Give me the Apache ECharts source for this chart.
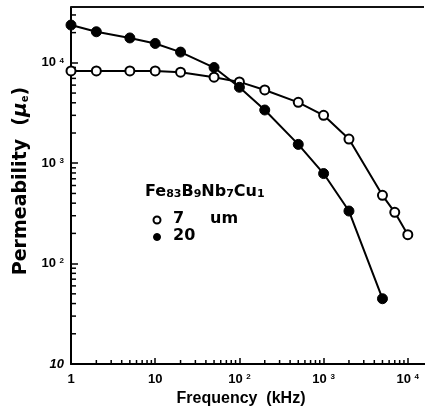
<!DOCTYPE html>
<html>
<head>
<meta charset="utf-8">
<script src="https://cdn.jsdelivr.net/npm/echarts@6/dist/echarts.min.js"></script>
<style>
html,body{margin:0;padding:0;background:#fff;}
#chart{width:425px;height:412px;}
</style>
</head>
<body>
<div id="chart"></div>
<script>
// Data
var freq7  = [1, 2, 5, 10, 20, 50, 100, 200, 500, 1000, 2000, 5000, 7000, 10000];
var perm7  = [8300, 8300, 8300, 8300, 8070, 7200, 6460, 5370, 4040, 3000, 1740, 479, 324, 194];
var freq20 = [1, 2, 5, 10, 20, 50, 100, 200, 500, 1000, 2000, 5000];
var perm20 = [23800, 20400, 17700, 15600, 12800, 8980, 5710, 3390, 1540, 789, 334, 44.7];

// Minor tick positions (axis decoration)
var xMinorTicks = [2,3,4,5,6,7,8,9, 20,30,40,50,60,70,80,90, 200,300,400,500,600,700,800,900, 2000,3000,4000,5000,6000,7000,8000,9000];
var yMinorTicks = [20,30,40,50,60,70,80,90, 200,300,400,500,600,700,800,900, 2000,3000,4000,5000,6000,7000,8000,9000, 20000,30000];

var X_MIN = 1, X_MAX = 16000, Y_MIN = 10, Y_MAX = 36000;
var FONT = 'Liberation Sans';
var WIDE = 'DejaVu Sans';

function isPow10(v){ var l = Math.log10(v); return Math.abs(l - Math.round(l)) < 1e-6; }
function powLabel(v, italicTen){
  if (!isPow10(v)) return '';
  var e = Math.round(Math.log10(v));
  if (e === 0) return '1';
  if (e === 1) return italicTen ? '{it|10}' : '10';
  return '10 {sup|' + e + '}';
}

var chart = echarts.init(document.getElementById('chart'));

var richSup = {
  sup: {fontSize: 8, fontWeight: 'bold', fontFamily: FONT, verticalAlign: 'top', lineHeight: 9, color: '#000'},
  it: {fontSize: 13, fontWeight: 'bold', fontStyle: 'italic', fontFamily: FONT, color: '#000'}
};

chart.setOption({
  animation: false,
  backgroundColor: '#fff',
  grid: {left: 71, top: 7, right: 0, bottom: 48},
  xAxis: {
    type: 'log', logBase: 10, min: X_MIN, max: X_MAX,
    axisLine: {lineStyle: {color: '#000', width: 2}},
    axisTick: {inside: true, length: 6, lineStyle: {color: '#000', width: 1.5}},
    splitLine: {show: false},
    axisLabel: {
      margin: 9, color: '#000', fontSize: 13, fontWeight: 'bold', fontFamily: FONT,
      formatter: function(v){ return powLabel(v, false); }, rich: richSup,
      showMaxLabel: false
    },
    name: 'Frequency  (kHz)', nameLocation: 'middle', nameGap: 26,
    nameTextStyle: {fontSize: 16, fontWeight: 'bold', fontFamily: FONT, color: '#000', padding: [0, 14, 0, 0]}
  },
  yAxis: {
    type: 'log', logBase: 10, min: Y_MIN, max: Y_MAX,
    axisLine: {lineStyle: {color: '#000', width: 2}},
    axisTick: {inside: true, length: 7, lineStyle: {color: '#000', width: 1.5}},
    splitLine: {show: false},
    axisLabel: {
      margin: 7, color: '#000', fontSize: 13, fontWeight: 'bold', fontFamily: FONT,
      formatter: function(v){ return powLabel(v, true); }, rich: richSup,
      showMaxLabel: false
    },
    name: 'Permeability  ({mu|μ}{sub|e})', nameLocation: 'middle', nameGap: 34, nameRotate: 90,
    nameTextStyle: {
      fontSize: 19, fontWeight: 'bold', fontFamily: WIDE, color: '#000', padding: [0, 0, 0, 9],
      rich: {
        mu: {fontSize: 20, fontWeight: 'bold', fontStyle: 'italic', fontFamily: WIDE, color: '#000'},
        sub: {fontSize: 10, fontWeight: 'bold', fontFamily: WIDE, color: '#000', verticalAlign: 'bottom', lineHeight: 9}
      }
    }
  },
  series: [{
    type: 'line', name: '7 um',
    data: freq7.map(function(f, i){ return [f, perm7[i]]; }),
    symbol: 'circle', symbolSize: 9,
    lineStyle: {color: '#000', width: 2},
    itemStyle: {color: '#fff', borderColor: '#000', borderWidth: 2},
    z: 3
  }, {
    type: 'line', name: '20 um',
    data: freq20.map(function(f, i){ return [f, perm20[i]]; }),
    symbol: 'circle', symbolSize: 10,
    lineStyle: {color: '#000', width: 2},
    itemStyle: {color: '#000', borderColor: '#000', borderWidth: 1},
    z: 4
  }, {
    type: 'custom', silent: true,
    data: xMinorTicks.map(function(v){ return [v, Y_MIN]; }),
    renderItem: function(params, api){
      var p = api.coord([api.value(0), api.value(1)]);
      return {type: 'line', shape: {x1: p[0], y1: p[1], x2: p[0], y2: p[1] - 4}, style: {stroke: '#000', lineWidth: 1.5}};
    }
  }, {
    type: 'custom', silent: true,
    data: yMinorTicks.map(function(v){ return [X_MIN, v]; }),
    renderItem: function(params, api){
      var p = api.coord([api.value(0), api.value(1)]);
      return {type: 'line', shape: {x1: p[0], y1: p[1], x2: p[0] + 5, y2: p[1]}, style: {stroke: '#000', lineWidth: 1.5}};
    }
  }, {
    // top frame line of the plot
    type: 'custom', silent: true, clip: false,
    data: [[X_MIN, Y_MAX]],
    renderItem: function(params, api){
      var a = api.coord([X_MIN, Y_MAX]);
      var b = api.coord([X_MAX, Y_MAX]);
      return {type: 'line', shape: {x1: a[0], y1: a[1], x2: b[0] - 1, y2: b[1]}, style: {stroke: '#111', lineWidth: 2}};
    }
  }],
  graphic: [{
    type: 'text', left: 145, top: 184,
    style: {
      text: 'Fe{sub|83}B{sub|9}Nb{sub|7}Cu{sub|1}',
      font: 'bold 16px "DejaVu Sans"', fill: '#000',
      rich: {sub: {fontSize: 11, fontWeight: 'bold', fontFamily: WIDE, verticalAlign: 'bottom', lineHeight: 9, fill: '#000'}}
    }
  }, {
    type: 'circle', shape: {cx: 157, cy: 220, r: 3.5}, style: {fill: '#fff', stroke: '#000', lineWidth: 2}
  }, {
    type: 'text', left: 173, top: 211, style: {text: '7', font: 'bold 16px "DejaVu Sans"', fill: '#000'}
  }, {
    type: 'text', left: 210, top: 211, style: {text: 'um', font: 'bold 16px "DejaVu Sans"', fill: '#000'}
  }, {
    type: 'circle', shape: {cx: 157, cy: 237, r: 3.5}, style: {fill: '#000', stroke: '#000', lineWidth: 1}
  }, {
    type: 'text', left: 173, top: 228, style: {text: '20', font: 'bold 16px "DejaVu Sans"', fill: '#000'}
  }]
});
</script>
</body>
</html>
